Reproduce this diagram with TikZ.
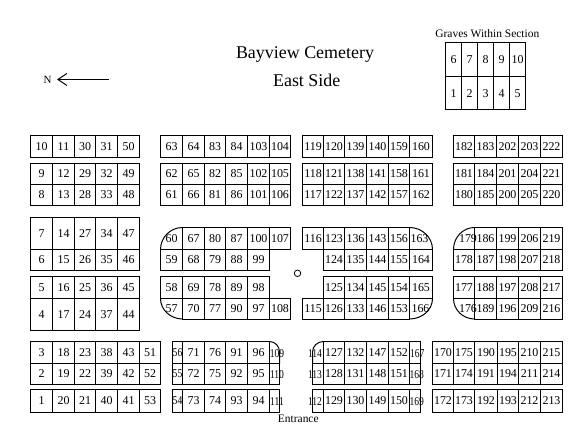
\documentclass[tikz,border=0pt]{standalone}
\usepackage{fontspec}
\setmainfont{Liberation Serif}
\newfontfamily\narrowdigits{Liberation Serif}[FakeStretch=0.8]
\usetikzlibrary{arrows.meta}
\newcommand\cellrow[5][]{%
  \foreach \xb/\lab [remember=\xb as \xa (initially #4)] in {#5}{%
    \pgfmathsetmacro\wid{\xb-\xa}%
    \pgfmathsetmacro\hei{#3-#2}%
    \node[cellbox,#1,minimum width=\wid bp,minimum height=\hei bp] (c\lab) at ({(\xa+\xb)/2},{(#2+#3)/2}) {\lab};
  }%
}
\begin{document}
\begin{tikzpicture}[x=1bp,y=-1bp,line width=1bp,
  cellbox/.style={draw=black,rectangle,inner sep=0pt,outer sep=0pt,font=\fontsize{12}{14}\selectfont},
  numtext/.style={inner sep=0pt,font=\fontsize{12}{14}\selectfont},
  smallnum/.style={inner sep=0pt,font=\narrowdigits\fontsize{12}{14}\selectfont},
  smallcell/.style={font=\narrowdigits\fontsize{12}{14}\selectfont},
  caption/.style={inner sep=0pt,font=\fontsize{11.5}{14}\selectfont},
  heading/.style={inner sep=0pt,font=\fontsize{18}{22}\selectfont},
  curb/.style={draw=black,line width=1bp}]
\useasboundingbox (0,0) rectangle (588,443);
\fill[white] (0,0) rectangle (588,443);

% Headings
\node[heading] (title) at (305,55) {Bayview Cemetery};
\node[heading] (side) at (306.7,80.5) {East Side};

% North arrow
\node[inner sep=0pt,font=\fontsize{11}{13}\selectfont] (north) at (47.5,80) {N};
\coordinate (tail) at (109,79.5);
\coordinate (tip) at (57,79.5);
\draw[-{Straight Barb[length=9bp,width=12bp]}] (tail) -- (tip);

% Legend
\node[caption] (legend) at (487.3,33.3) {Graves Within Section};
\foreach \xb/\lab [remember=\xb as \xa (initially 445.5)] in {461.5/6,477.5/7,493.5/8,509.5/9,525.5/10}{%
  \node[cellbox,minimum width=16bp,minimum height=33.5bp] (g\lab) at ({(\xa+\xb)/2},59.5) {\lab};
}
\foreach \xb/\lab [remember=\xb as \xa (initially 445.5)] in {461.5/1,477.5/2,493.5/3,509.5/4,525.5/5}{%
  \node[cellbox,minimum width=16bp,minimum height=33.5bp] (g\lab) at ({(\xa+\xb)/2},93.25) {\lab};
}

% Column 1
\cellrow{135.5}{157.5}{30.5}{52.5/10,74.5/11,95.5/30,117.5/31,139.5/50}
\cellrow{163.5}{184.5}{30.5}{52.5/9,74.5/12,95.5/29,117.5/32,139.5/49}
\cellrow{184.5}{205.5}{30.5}{52.5/8,74.5/13,95.5/28,117.5/33,139.5/48}
\cellrow{217.5}{249.5}{30.5}{52.5/7,74.5/14,95.5/27,117.5/34,139.5/47}
\cellrow{249.5}{270}{30.5}{52.5/6,74.5/15,95.5/26,117.5/35,139.5/46}
\cellrow{276.5}{298.5}{30.5}{52.5/5,74.5/16,95.5/25,117.5/36,139.5/45}
\cellrow{298.5}{330}{30.5}{52.5/4,74.5/17,95.5/24,117.5/37,139.5/44}
\cellrow{341.5}{363.5}{30.5}{52.5/3,74.5/18,95.5/23,117.5/38,139.5/43,160.5/51}
\cellrow{363.5}{384.5}{30.5}{52.5/2,74.5/19,95.5/22,117.5/39,139.5/42,160.5/52}
\cellrow{389.5}{412}{30.5}{52.5/1,74.5/20,95.5/21,117.5/40,139.5/41,160.5/53}

% Column 2
\cellrow{135.5}{157.5}{160.5}{182.5/63,204.5/64,225.5/83,247.5/84,269.5/103,290.5/104}
\cellrow{163.5}{184.5}{160.5}{182.5/62,204.5/65,225.5/82,247.5/85,269.5/102,290.5/105}
\cellrow{184.5}{205.5}{160.5}{182.5/61,204.5/66,225.5/81,247.5/86,269.5/101,290.5/106}
\cellrow{227.5}{249.5}{182.5}{204.5/67,225.5/80,247.5/87,269.5/100,290.5/107}
\cellrow{249.5}{270}{160.5}{182.5/59,204.5/68,225.5/79,247.5/88,269.5/99}
\cellrow{276.5}{298.5}{160.5}{182.5/58,204.5/69,225.5/78,247.5/89,269.5/98}
\cellrow{298.5}{319}{182.5}{204.5/70,225.5/77,247.5/90,269.5/97,290.5/108}
\node[numtext] (c60) at (171.7,239) {60};
\node[numtext] (c57) at (171.7,309) {57};
\draw[curb] (182.5,227.5) .. controls (170.4,227.5) and (160.5,237.4) .. (160.5,249.5);
\draw[curb] (160.5,298.5) .. controls (160.5,309.8) and (170.4,319) .. (182.5,319);

\cellrow[smallcell]{341.5}{363.5}{172.5}{182.5/56}
\cellrow[smallcell]{363.5}{384.5}{172.5}{182.5/55}
\cellrow[smallcell]{389.5}{412}{172.5}{182.5/54}
\cellrow{341.5}{363.5}{182.5}{204.5/71,225.5/76,247.5/91,269.5/96}
\cellrow{363.5}{384.5}{182.5}{204.5/72,225.5/75,247.5/92,269.5/95}
\cellrow{389.5}{412}{182.5}{204.5/73,225.5/74,247.5/93,269.5/94}
\draw[curb] (269.5,341.5) .. controls (275,341.5) and (279.5,346.2) .. (279.5,352) -- (279.5,363.5);
\draw[curb] (269.5,363.5) rectangle (279.5,384.5);
\draw[curb] (269.5,389.5) rectangle (279.5,412);
\node[smallnum] (c109) at (277,353.3) {109};
\node[smallnum] (c110) at (277,375) {110};
\node[smallnum] (c111) at (277,401.5) {111};

% Column 3
\cellrow{135.5}{157.5}{302.5}{323.5/119,344.5/120,366.5/139,388.5/140,409.5/159,432.5/160}
\cellrow{163.5}{184.5}{302.5}{323.5/118,344.5/121,366.5/138,388.5/141,409.5/158,432.5/161}
\cellrow{184.5}{205.5}{302.5}{323.5/117,344.5/122,366.5/137,388.5/142,409.5/157,432.5/162}
\cellrow{227.5}{249.5}{302.5}{323.5/116,344.5/123,366.5/136,388.5/143,409.5/156}
\cellrow{249.5}{270}{323.5}{344.5/124,366.5/135,388.5/144,409.5/155,432.5/164}
\cellrow{276.5}{298.5}{323.5}{344.5/125,366.5/134,388.5/145,409.5/154,432.5/165}
\cellrow{298.5}{319}{302.5}{323.5/115,344.5/126,366.5/133,388.5/146,409.5/153}
\node[numtext] (c163) at (419.5,239) {163};
\node[numtext] (c166) at (420.5,308.7) {166};
\draw[curb] (409.5,227.5) .. controls (422.2,227.5) and (432.5,237.4) .. (432.5,249.5);
\draw[curb] (432.5,298.5) .. controls (432.5,309.8) and (422.2,319) .. (409.5,319);

\cellrow{341.5}{363.5}{323.5}{344.5/127,366.5/132,388.5/147,409.5/152}
\cellrow{363.5}{384.5}{323.5}{344.5/128,366.5/131,388.5/148,409.5/151}
\cellrow{389.5}{412}{323.5}{344.5/129,366.5/130,388.5/149,409.5/150}
\draw[curb] (312.5,363.5) -- (312.5,352) .. controls (312.5,346.2) and (317.5,341.5) .. (323.5,341.5);
\draw[curb] (312.5,363.5) rectangle (323.5,384.5);
\draw[curb] (312.5,389.5) rectangle (323.5,412);
\draw[curb] (409.5,341.5) rectangle (420.5,363.5);
\draw[curb] (409.5,363.5) rectangle (420.5,384.5);
\draw[curb] (409.5,389.5) rectangle (420.5,412);
\node[smallnum] (c114) at (315,353.3) {114};
\node[smallnum] (c113) at (315,375) {113};
\node[smallnum] (c112) at (315,401.5) {112};
\node[smallnum] (c167) at (417.3,353.3) {167};
\node[smallnum] (c168) at (416.8,375) {168};
\node[smallnum] (c169) at (416.8,401.5) {169};

% Column 4
\cellrow{135.5}{157.5}{453.5}{474.5/182,496.5/183,518.5/202,540.5/203,562.5/222}
\cellrow{163.5}{184.5}{453.5}{474.5/181,496.5/184,518.5/201,540.5/204,562.5/221}
\cellrow{184.5}{205.5}{453.5}{474.5/180,496.5/185,518.5/200,540.5/205,562.5/220}
\cellrow{227.5}{249.5}{474.5}{496.5/186,518.5/199,540.5/206,562.5/219}
\cellrow{249.5}{270}{453.5}{474.5/178,496.5/187,518.5/198,540.5/207,562.5/218}
\cellrow{276.5}{298.5}{453.5}{474.5/177,496.5/188,518.5/197,540.5/208,562.5/217}
\cellrow{298.5}{319}{474.5}{496.5/189,518.5/196,540.5/209,562.5/216}
\node[numtext] (c179) at (468,239) {179};
\node[numtext] (c176) at (468,308.7) {176};
\draw[curb] (474.5,227.5) .. controls (462.9,227.5) and (453.5,237.4) .. (453.5,249.5);
\draw[curb] (453.5,298.5) .. controls (453.5,309.8) and (462.9,319) .. (474.5,319);

\cellrow{341.5}{363.5}{432.5}{453.5/170,474.5/175,497.5/190,518.5/195,540.5/210,562.5/215}
\cellrow{363.5}{384.5}{432.5}{453.5/171,474.5/174,497.5/191,518.5/194,540.5/211,562.5/214}
\cellrow{389.5}{412}{432.5}{453.5/172,474.5/173,497.5/192,518.5/193,540.5/212,562.5/213}

% Centre circle and entrance
\node[draw=black,circle,line width=0.8bp,minimum size=6.5bp,inner sep=0pt] (hub) at (297.5,273.3) {};
\node[caption] (entrance) at (298.3,419.3) {Entrance};
\end{tikzpicture}
\end{document}
